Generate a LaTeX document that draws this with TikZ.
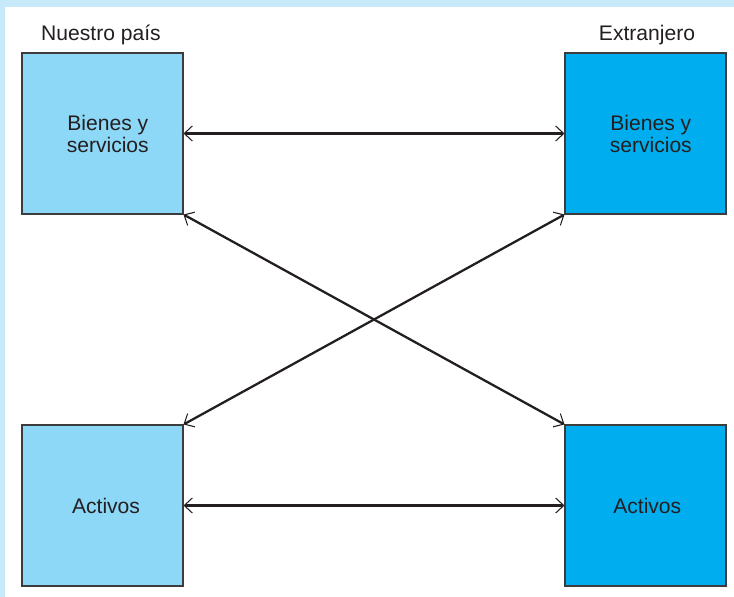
\documentclass[tikz,border=0pt]{standalone}
\usepackage{fontspec}
\setmainfont{Liberation Sans}
\usetikzlibrary{arrows.meta}
\definecolor{framebg}{HTML}{C7E9F9}
\definecolor{homefill}{HTML}{8DD7F7}
\definecolor{forfill}{HTML}{00AEEF}
\definecolor{boxline}{HTML}{3C3C3C}
\definecolor{inkdark}{HTML}{231F20}

\begin{document}
\begin{tikzpicture}[x=0.02cm, y=-0.02cm,
  >={Straight Barb[length=4.6pt, width=8.6pt, line width=0.6pt]},
  box/.style={draw=boxline, line width=0.6pt, minimum size=3.22cm, inner sep=0pt,
    align=center, text=inkdark, font=\fontsize{12}{12.5}\selectfont},
  flow/.style={<->, line width=1.3pt, draw=inkdark},
  head/.style={anchor=base, text=inkdark, font=\fontsize{12}{12.5}\selectfont}]
% frame
\useasboundingbox (0,0) rectangle (734,597);
\fill[framebg] (0,0) rectangle (734,597);
\fill[white] (5,7) rectangle (734,597);
% column headings
\node[head] (home) at (101,41) {Nuestro país};
\node[head] (abroad) at (647,41) {Extranjero};
% boxes
\node[box, fill=homefill] (homegs) at (102.5,133.5) {\hspace*{6pt}Bienes y\\\hspace*{6pt}servicios};
\node[box, fill=forfill] (abroadgs) at (645.5,133.5) {\hspace*{6pt}Bienes y\\\hspace*{6pt}servicios};
\node[box, fill=homefill] (homeas) at (102.5,505.5) {\hspace*{4pt}Activos};
\node[box, fill=forfill] (abroadas) at (645.5,505.5) {\hspace*{2pt}Activos};
% flows
\draw[flow] (homegs.east) -- (abroadgs.west);
\draw[flow] (homeas.east) -- (abroadas.west);
\draw[flow] (homegs.south east) -- (abroadas.north west);
\draw[flow] (homeas.north east) -- (abroadgs.south west);
\end{tikzpicture}
\end{document}
